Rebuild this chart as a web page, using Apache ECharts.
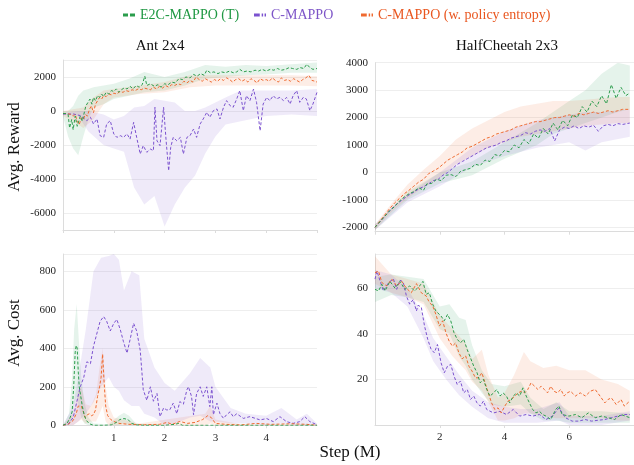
<!DOCTYPE html>
<html><head><meta charset="utf-8">
<script src="https://cdn.jsdelivr.net/npm/echarts@6/dist/echarts.min.js"></script>
<style>html,body{margin:0;padding:0;background:#fff}#c{width:634px;height:465px}</style>
</head><body><div id="c"></div>
<script>
// ---------- DATA ----------
const legendNames = ['E2C-MAPPO (T)', 'C-MAPPO', 'C-MAPPO (w. policy entropy)'];
const panelTitles = ['Ant 2x4', 'HalfCheetah 2x3'];
const yNames = ['Avg. Reward', 'Avg. Cost'];
const xName = 'Step (M)';

// Ant 2x4 reward [step(M), value]
const antRewE2C = [[0,-150],[0.06,-150],[0.10,-200],[0.13,-1000],[0.17,-500],[0.20,-1100],[0.24,-300],[0.28,-900],[0.31,-1000],[0.34,-300],[0.38,-600],[0.41,-200],[0.45,300],[0.49,500],[0.53,700],[0.57,400],[0.60,800],[0.64,600],[0.68,900],[0.72,800],[0.76,1000],[0.80,850],[0.85,1100],[0.90,1000],[0.95,1200],[1.00,1150],[1.05,1300],[1.10,1100],[1.15,1250],[1.20,1350],[1.26,1300],[1.32,1450],[1.38,1300],[1.44,1500],[1.50,1400],[1.56,1550],[1.61,2050],[1.65,1500],[1.72,1600],[1.80,1450],[1.87,1550],[1.93,1400],[2.00,1600],[2.07,1550],[2.14,1700],[2.21,1650],[2.28,1900],[2.35,1850],[2.42,2000],[2.50,1950],[2.57,2150],[2.64,2050],[2.71,2200],[2.78,2100],[2.83,2400],[2.90,2250],[2.97,2300],[3.05,2200],[3.12,2300],[3.20,2250],[3.28,2350],[3.35,2250],[3.42,2300],[3.48,2450],[3.55,2300],[3.62,2350],[3.70,2300],[3.78,2400],[3.85,2350],[3.92,2450],[4.00,2350],[4.08,2450],[4.15,2400],[4.22,2500],[4.30,2400],[4.38,2450],[4.45,2550],[4.52,2500],[4.60,2450],[4.67,2550],[4.74,2500],[4.80,2750],[4.86,2550],[4.92,2450],[5.00,2500]];
const antRewCM = [[0,-180],[0.21,-180],[0.34,-270],[0.47,-570],[0.54,-370],[0.60,-760],[0.67,-470],[0.73,-1450],[0.80,-1550],[0.86,-760],[0.93,-570],[1.00,-1350],[1.06,-1550],[1.13,-1450],[1.19,-1550],[1.26,-1350],[1.32,-1650],[1.39,-670],[1.45,-1550],[1.52,-2530],[1.58,-2040],[1.65,-2430],[1.72,-2240],[1.78,-2330],[1.81,220],[1.85,-1750],[1.91,-2040],[1.98,220],[2.03,-1750],[2.08,-3510],[2.12,-2140],[2.17,-1550],[2.24,-1750],[2.31,-1550],[2.37,-2530],[2.44,-1550],[2.50,-1450],[2.57,-1060],[2.63,-1550],[2.70,-760],[2.76,-470],[2.83,-80],[2.89,-370],[2.96,20],[3.03,120],[3.09,-470],[3.16,220],[3.22,610],[3.29,310],[3.35,220],[3.42,710],[3.48,1200],[3.55,20],[3.61,900],[3.68,610],[3.75,1290],[3.81,510],[3.88,-1160],[3.94,410],[4.01,800],[4.07,610],[4.14,900],[4.20,710],[4.27,800],[4.34,610],[4.40,800],[4.47,410],[4.53,900],[4.60,1200],[4.66,510],[4.73,800],[4.79,710],[4.86,20],[4.92,410],[5.00,1100]];
const antRewEnt = [[0,-150],[0.08,-150],[0.15,-200],[0.20,-300],[0.24,-200],[0.28,-600],[0.32,-800],[0.36,-400],[0.40,-500],[0.44,-200],[0.48,-300],[0.52,100],[0.56,300],[0.60,-100],[0.64,400],[0.68,600],[0.72,800],[0.76,700],[0.80,900],[0.85,850],[0.90,1000],[0.95,950],[1.00,1050],[1.06,1000],[1.12,1150],[1.18,1100],[1.24,1200],[1.30,1150],[1.36,1250],[1.42,1200],[1.48,1300],[1.54,1250],[1.60,1350],[1.66,1300],[1.72,1250],[1.78,1400],[1.84,1300],[1.90,1450],[1.96,1350],[2.02,1500],[2.08,1400],[2.14,1550],[2.20,1500],[2.26,1600],[2.32,1550],[2.38,1750],[2.44,1650],[2.50,1800],[2.56,1700],[2.62,2000],[2.68,1850],[2.74,1750],[2.80,1900],[2.86,1800],[2.92,1700],[2.98,1850],[3.04,1750],[3.10,1900],[3.16,1800],[3.22,1950],[3.28,1850],[3.34,1700],[3.40,1850],[3.46,1900],[3.52,1750],[3.58,1850],[3.64,1700],[3.70,1900],[3.76,1800],[3.82,1650],[3.88,1900],[3.94,1800],[4.00,1850],[4.06,1750],[4.12,1950],[4.18,1800],[4.24,1700],[4.30,1950],[4.36,1800],[4.42,1850],[4.48,1750],[4.54,1900],[4.60,1800],[4.66,1700],[4.72,1850],[4.78,1950],[4.84,2100],[4.90,1800],[4.96,1750],[5.00,1700]];
// bands [step, low, high]
const antRewE2CBand = [[0,-300,0],[0.1,-1500,0],[0.2,-2200,300],[0.3,-2600,900],[0.4,-1500,1200],[0.5,-500,1300],[0.6,200,1400],[0.8,400,1500],[1.0,700,1600],[1.3,900,1900],[1.6,1100,2300],[2.0,1200,2000],[2.4,1500,2300],[2.8,1900,2700],[3.2,2000,2600],[3.6,2100,2700],[4.0,2150,2650],[4.5,2250,2750],[5.0,2250,2850]];
const antRewCMBand = [[0,-200,-100],[0.3,-300,0],[0.5,-1200,0],[0.8,-2000,-200],[1.0,-2200,-500],[1.2,-2400,-300],[1.4,-4500,200],[1.6,-5500,300],[1.8,-5000,700],[2.0,-6800,600],[2.2,-5500,500],[2.4,-4500,0],[2.6,-3800,0],[2.8,-2500,200],[3.0,-1500,500],[3.2,-800,800],[3.5,-600,1200],[4.0,-300,1200],[4.5,-200,1200],[5.0,-300,1300]];
const antRewEntBand = [[0,-300,0],[0.2,-600,100],[0.4,-1000,200],[0.6,-500,800],[0.8,400,1200],[1.0,800,1300],[1.5,1000,1500],[2.0,1100,1700],[2.5,1400,2100],[3.0,1500,2100],[3.5,1500,2100],[4.0,1500,2100],[4.5,1500,2100],[5.0,1450,2050]];

// HalfCheetah 2x3 reward
const hcRewE2C = [[0,-2000],[0.15,-1800],[0.30,-1600],[0.45,-1400],[0.60,-1250],[0.75,-1050],[0.90,-900],[1.05,-780],[1.20,-700],[1.35,-560],[1.50,-650],[1.60,-420],[1.75,-400],[1.90,-250],[2.05,-300],[2.20,-100],[2.35,-80],[2.50,-150],[2.65,50],[2.80,100],[2.95,150],[3.10,300],[3.25,250],[3.40,450],[3.55,400],[3.70,650],[3.85,600],[4.00,800],[4.15,750],[4.30,1000],[4.45,900],[4.60,1200],[4.75,1050],[4.90,1400],[5.05,1250],[5.20,1600],[5.35,1400],[5.50,1800],[5.65,1550],[5.80,1900],[5.95,1700],[6.10,2100],[6.25,2000],[6.40,2400],[6.55,2200],[6.70,2600],[6.85,2400],[7.00,2800],[7.15,2500],[7.30,3200],[7.45,2700],[7.60,3100],[7.75,2800],[7.87,2900]];
const hcRewCM = [[0,-2000],[0.15,-1800],[0.30,-1600],[0.45,-1400],[0.60,-1220],[0.75,-1080],[0.90,-950],[1.05,-820],[1.20,-720],[1.35,-600],[1.50,-520],[1.65,-420],[1.80,-300],[1.95,-250],[2.10,-100],[2.25,0],[2.40,150],[2.55,300],[2.70,400],[2.85,500],[3.00,600],[3.15,700],[3.30,800],[3.45,900],[3.60,950],[3.75,1000],[3.90,1100],[4.05,1150],[4.20,1250],[4.35,1300],[4.50,1350],[4.65,1450],[4.80,1400],[4.95,1500],[5.10,1550],[5.25,1500],[5.40,1600],[5.55,1150],[5.70,1550],[5.85,1650],[6.00,1600],[6.15,1700],[6.30,1600],[6.45,1700],[6.60,1650],[6.75,1720],[6.90,1500],[7.05,1700],[7.20,1750],[7.35,1700],[7.50,1780],[7.65,1750],[7.87,1800]];
const hcRewEnt = [[0,-2000],[0.15,-1780],[0.30,-1550],[0.45,-1320],[0.60,-1120],[0.75,-950],[0.90,-780],[1.05,-650],[1.20,-500],[1.35,-350],[1.50,-250],[1.65,-50],[1.80,50],[1.95,150],[2.10,300],[2.25,450],[2.40,550],[2.55,650],[2.70,750],[2.85,900],[3.00,950],[3.15,1050],[3.30,1150],[3.45,1250],[3.60,1300],[3.75,1400],[3.90,1450],[4.05,1500],[4.20,1550],[4.35,1650],[4.50,1700],[4.65,1750],[4.80,1800],[4.95,1850],[5.10,1850],[5.25,1900],[5.40,1950],[5.55,2000],[5.70,2000],[5.85,2050],[6.00,2100],[6.15,2050],[6.30,2150],[6.45,2100],[6.60,2150],[6.75,2200],[6.90,2150],[7.05,2200],[7.20,2250],[7.35,2200],[7.50,2250],[7.65,2300],[7.87,2300]];
const hcRewE2CBand = [[0,-2100,-1900],[1.0,-1000,-700],[2.0,-400,0],[3.0,-100,400],[4.0,500,1100],[5.0,1000,1800],[5.5,1400,2200],[6.0,1600,2600],[6.5,1800,3000],[7.0,2000,3600],[7.5,2200,4000],[7.87,2300,3900]];
const hcRewCMBand = [[0,-2100,-1900],[1.0,-1100,-800],[2.0,-500,0],[3.0,200,900],[4.0,600,1500],[5.0,900,1900],[6.0,1100,2100],[6.5,800,2200],[7.0,1100,2200],[7.87,1300,2300]];
const hcRewEntBand = [[0,-2100,-1900],[0.5,-1450,-1150],[1.0,-950,-450],[1.5,-550,100],[2.0,-200,600],[2.5,300,1200],[3.0,600,1600],[3.5,900,1900],[4.0,1100,2200],[4.5,1300,2400],[5.0,1400,2500],[5.5,1500,2600],[6.0,1600,2600],[6.5,1700,2650],[7.0,1750,2700],[7.5,1800,2750],[7.87,1800,2750]];

// Ant 2x4 cost
const antCostE2C = [[0,0],[0.08,10],[0.14,40],[0.18,70],[0.21,200],[0.24,380],[0.26,415],[0.28,400],[0.30,280],[0.32,200],[0.35,150],[0.38,100],[0.42,50],[0.46,25],[0.52,8],[0.60,0],[0.80,0],[0.95,2],[1.05,15],[1.12,30],[1.20,35],[1.28,30],[1.35,10],[1.45,2],[1.60,0],[2.00,0],[2.20,5],[2.28,10],[2.35,0],[3.00,0],[4.00,0],[5.00,0]];
const antCostCM = [[0,0],[0.10,5],[0.20,40],[0.27,120],[0.34,200],[0.41,250],[0.47,330],[0.54,320],[0.60,410],[0.67,480],[0.73,540],[0.80,565],[0.83,570],[0.86,540],[0.93,490],[1.00,530],[1.06,550],[1.13,495],[1.19,435],[1.26,375],[1.29,370],[1.32,445],[1.39,530],[1.45,490],[1.52,390],[1.58,185],[1.65,130],[1.72,200],[1.78,125],[1.85,165],[1.91,45],[1.98,90],[2.04,80],[2.10,80],[2.17,115],[2.24,60],[2.30,123],[2.37,110],[2.44,185],[2.47,200],[2.53,150],[2.57,55],[2.63,165],[2.70,200],[2.76,150],[2.83,200],[2.89,97],[2.93,200],[2.96,55],[3.03,115],[3.09,60],[3.16,36],[3.22,55],[3.29,70],[3.35,45],[3.42,60],[3.55,36],[3.68,45],[3.88,28],[4.01,35],[4.14,19],[4.27,45],[4.40,19],[4.53,10],[4.66,19],[4.76,45],[4.86,19],[5.00,3]];
const antCostEnt = [[0,0],[0.10,5],[0.20,25],[0.26,60],[0.30,100],[0.33,110],[0.36,100],[0.40,70],[0.44,40],[0.48,55],[0.52,60],[0.56,50],[0.60,55],[0.64,80],[0.68,150],[0.72,200],[0.75,250],[0.78,370],[0.81,220],[0.84,100],[0.88,50],[0.94,30],[1.00,20],[1.10,10],[1.30,5],[1.60,3],[1.90,5],[2.05,15],[2.15,5],[2.30,20],[2.45,10],[2.60,15],[2.75,30],[2.85,50],[2.92,40],[3.00,10],[3.20,5],[3.50,2],[3.80,10],[4.10,5],[4.50,8],[4.80,5],[5.00,0]];
const antCostE2CBand = [[0,0,0],[0.12,0,60],[0.18,30,250],[0.22,100,500],[0.27,150,630],[0.31,100,450],[0.36,40,250],[0.42,10,120],[0.5,0,40],[0.6,0,10],[0.9,0,5],[1.1,0,50],[1.2,10,65],[1.3,0,50],[1.45,0,5],[2.0,0,2],[5.0,0,0]];
const antCostCMBand = [[0,0,0],[0.2,0,100],[0.3,20,250],[0.45,60,500],[0.6,120,800],[0.75,200,870],[0.9,250,880],[1.0,200,890],[1.1,180,860],[1.2,130,700],[1.35,100,800],[1.5,100,780],[1.6,60,450],[1.8,40,300],[2.0,0,220],[2.2,10,180],[2.5,40,270],[2.7,50,350],[2.9,20,300],[3.0,20,200],[3.3,10,90],[3.6,10,60],[4.0,0,50],[4.3,10,90],[4.6,0,30],[4.8,0,60],[5.0,0,10]];
const antCostEntBand = [[0,0,0],[0.2,0,60],[0.3,20,180],[0.36,30,200],[0.45,10,110],[0.55,20,100],[0.65,20,160],[0.72,60,300],[0.78,100,400],[0.84,20,200],[0.9,0,100],[1.0,0,40],[1.5,0,10],[2.8,0,60],[2.9,10,100],[3.0,0,30],[3.5,0,5],[5.0,0,5]];

// HalfCheetah 2x3 cost
const hcCostE2C = [[0,59.5],[0.11,58.8],[0.21,61.7],[0.31,58.8],[0.46,63],[0.62,60],[0.77,63],[0.92,59.5],[1.07,61],[1.22,58.8],[1.38,61],[1.48,63],[1.58,57.3],[1.68,58],[1.78,53],[1.88,50],[2.04,47.8],[2.14,45.7],[2.24,48.5],[2.34,45.7],[2.44,40.5],[2.54,37.6],[2.64,36],[2.74,37.6],[2.85,33],[2.95,29.4],[3.05,25.8],[3.15,23],[3.25,18.5],[3.35,20],[3.45,15.6],[3.55,12.7],[3.66,14],[3.76,15.6],[3.86,12.7],[3.96,14],[4.06,12.7],[4.16,9.7],[4.27,12.7],[4.37,14],[4.47,12.7],[4.57,16.3],[4.67,12.7],[4.77,9.7],[4.87,6.8],[4.97,5.3],[5.08,6],[5.18,4.6],[5.28,3.9],[5.43,2.4],[5.58,6.8],[5.68,8.3],[5.78,4.6],[5.99,3.9],[6.19,4.6],[6.39,3.2],[6.59,5.3],[6.80,3.2],[7.00,3.9],[7.20,3.2],[7.40,2.4],[7.60,4.6],[7.87,3.2]];
const hcCostCM = [[0,64],[0.06,67.5],[0.16,63],[0.26,58.8],[0.42,62.5],[0.57,64],[0.67,59.5],[0.77,63.5],[0.87,62.8],[0.97,56.6],[1.07,53],[1.18,55],[1.28,50],[1.33,52.5],[1.43,51.7],[1.53,43.4],[1.63,37.5],[1.73,33.3],[1.83,31.7],[1.93,35.3],[2.04,27.3],[2.14,22.9],[2.24,25.8],[2.34,26.6],[2.44,21.5],[2.54,17.8],[2.64,19.3],[2.74,14.1],[2.85,15.6],[2.95,11.2],[3.05,12.7],[3.15,9.7],[3.25,8.3],[3.35,10.5],[3.45,6.8],[3.66,5.3],[3.86,6],[4.06,4.6],[4.27,6.8],[4.47,3.9],[4.67,4.6],[4.87,3.9],[5.08,4.6],[5.28,2.4],[5.48,3.9],[5.68,7.5],[5.88,3.2],[6.09,1.7],[6.29,1.7],[6.49,2.4],[6.69,1.7],[6.90,2.1],[7.10,2.4],[7.30,3.2],[7.50,3.9],[7.71,4.6],[7.87,4.6]];
const hcCostEnt = [[0,66.8],[0.11,67.5],[0.21,62.5],[0.36,61],[0.52,64],[0.67,61],[0.82,63],[0.97,60],[1.12,58],[1.28,62],[1.43,58],[1.58,56.6],[1.68,53.7],[1.78,52.3],[1.88,48.5],[1.99,43.4],[2.09,45.7],[2.19,40.5],[2.29,36.8],[2.39,34.6],[2.49,36],[2.59,31.7],[2.69,29],[2.80,30.3],[2.90,25.8],[3.00,23.6],[3.10,20.7],[3.20,20.7],[3.30,22.9],[3.40,18.5],[3.50,14.1],[3.60,9.7],[3.70,6.8],[3.80,7.5],[3.90,5.3],[4.01,8.3],[4.11,10.5],[4.21,11.2],[4.32,12.7],[4.42,14.1],[4.52,14.8],[4.62,14.1],[4.72,15.6],[4.82,18.5],[4.93,17],[5.03,15.6],[5.13,17],[5.23,15.6],[5.33,14.1],[5.43,17],[5.53,14.8],[5.63,14.1],[5.74,15.6],[5.84,12.7],[5.94,14.1],[6.04,14.8],[6.19,12.7],[6.34,14.1],[6.50,12.7],[6.65,14.8],[6.80,15.6],[6.95,12.7],[7.10,9.7],[7.20,11.2],[7.30,11.9],[7.45,9],[7.60,11.2],[7.70,8.3],[7.87,10.5]];
const hcCostE2CBand = [[0,54,65],[0.5,57,66],[1.0,56,65],[1.5,54,64],[2.0,42,52],[2.3,40,53],[2.6,30,47],[2.8,26,46],[3.0,20,35],[3.3,14,24],[3.6,9,18],[4.0,8,17],[4.5,9,19],[4.8,5,12],[5.2,2,7],[5.6,2,10],[6.0,1,6],[7.0,1,6],[7.87,1,5]];
const hcCostCMBand = [[0,60,68],[0.5,58,66],[1.0,52,60],[1.5,38,48],[1.8,28,38],[2.2,20,30],[2.6,13,22],[3.0,8,15],[3.5,3,10],[4.0,1,8],[4.5,1,7],[5.0,1,7],[5.7,2,10],[6.0,0,4],[7.0,0,4],[7.87,2,6]];
const hcCostEntBand = [[0,62,74],[0.5,58,66],[1.0,56,64],[1.5,53,62],[2.0,38,48],[2.4,30,42],[2.8,24,36],[3.0,19,29],[3.3,15,33],[3.5,10,22],[3.8,2,12],[4.0,2,14],[4.3,3,22],[4.6,5,32],[4.8,5,28],[5.2,4,25],[5.6,3,26],[6.0,3,24],[6.5,3,24],[7.0,3,20],[7.5,2,18],[7.87,2,15]];

// ---------- STYLE ----------
const F = 'Liberation Serif';
const COL = {e2c: '#2b9d4c', cm: '#7b52cf', ent: '#ef6a30'};
const TXT = {e2c: '#1f9843', cm: '#7d55c8', ent: '#e9561f'};
const FILL = {e2c: 'rgba(44,160,90,0.12)', cm: 'rgba(123,82,208,0.12)', ent: 'rgba(240,106,48,0.12)'};
const AX = '#dcdcdc';

function lineSeries(name, data, key, g) {
  return {type: 'line', name, data, xAxisIndex: g, yAxisIndex: g, symbol: 'none', showSymbol: false,
    color: COL[key], itemStyle: {color: COL[key]},
    lineStyle: {color: COL[key], width: 1, type: [3, 2]}, z: 5, silent: true, clip: true};
}
function bandSeries(data, key, g) {
  return {type: 'custom', name: 'band', xAxisIndex: g, yAxisIndex: g, silent: true, z: 1,
    data, encode: {x: 0, y: [1, 2]},
    renderItem: function (params, api) {
      if (params.dataIndex !== 0) return null;
      const top = data.map(d => api.coord([d[0], d[2]]));
      const bot = data.map(d => api.coord([d[0], d[1]])).reverse();
      const cs = params.coordSys;
      return {type: 'polygon', shape: {points: top.concat(bot)}, style: {fill: FILL[key]},
        clipPath: {type: 'rect', shape: {x: cs.x, y: cs.y, width: cs.width, height: cs.height}}};
    }};
}

const grids = [
  {left: 63, top: 60, width: 254, height: 170},
  {left: 375, top: 62.7, width: 263, height: 169},
  {left: 63, top: 254, width: 254, height: 171.3},
  {left: 375, top: 254, width: 263, height: 171}
];
const labelStyle = {fontFamily: F, fontSize: 11, color: '#222', formatter: v => String(v)};
function xAx(g, max, interval, showLabels) {
  return {type: 'value', gridIndex: g, min: 0, max, interval,
    axisLine: {show: true, onZero: false, lineStyle: {color: AX}},
    axisTick: {show: true, length: 3, lineStyle: {color: AX}},
    splitLine: {show: false},
    axisLabel: Object.assign({show: showLabels, margin: 7, showMinLabel: false, showMaxLabel: false}, labelStyle)};
}
function yAx(g, min, max, step, showMin, showMax) {
  return {type: 'value', gridIndex: g, min, max, minInterval: step, maxInterval: step,
    axisLine: {show: true, lineStyle: {color: AX}},
    axisTick: {show: false},
    splitLine: {show: true, lineStyle: {color: '#eeeeee', width: 1}},
    axisLabel: Object.assign({margin: 7, showMinLabel: showMin, showMaxLabel: showMax}, labelStyle)};
}

const iconDash2 = 'path://M0,0H5V3H0Z M7,0H12V3H7Z';
const iconDash3 = 'path://M0,0H6V3H0Z M8,0H9.5V3H8Z M11,0H12.5V3H11Z';
function leg(left, name, key, icon) {
  return {left, top: 8, padding: 0, itemWidth: 12, itemHeight: 3, itemGap: 0, selectedMode: false,
    data: [{name, icon, textStyle: {color: TXT[key]}}],
    textStyle: {fontFamily: F, fontSize: 14, padding: [0, 0, 0, 0]}};
}

const series = [
  bandSeries(antRewE2CBand, 'e2c', 0), bandSeries(antRewEntBand, 'ent', 0), bandSeries(antRewCMBand, 'cm', 0),
  bandSeries(hcRewE2CBand, 'e2c', 1), bandSeries(hcRewEntBand, 'ent', 1), bandSeries(hcRewCMBand, 'cm', 1),
  bandSeries(antCostE2CBand, 'e2c', 2), bandSeries(antCostEntBand, 'ent', 2), bandSeries(antCostCMBand, 'cm', 2),
  bandSeries(hcCostE2CBand, 'e2c', 3), bandSeries(hcCostEntBand, 'ent', 3), bandSeries(hcCostCMBand, 'cm', 3),
  lineSeries(legendNames[1], antRewCM, 'cm', 0), lineSeries(legendNames[2], antRewEnt, 'ent', 0), lineSeries(legendNames[0], antRewE2C, 'e2c', 0),
  lineSeries(legendNames[1], hcRewCM, 'cm', 1), lineSeries(legendNames[2], hcRewEnt, 'ent', 1), lineSeries(legendNames[0], hcRewE2C, 'e2c', 1),
  lineSeries(legendNames[1], antCostCM, 'cm', 2), lineSeries(legendNames[2], antCostEnt, 'ent', 2), lineSeries(legendNames[0], antCostE2C, 'e2c', 2),
  lineSeries(legendNames[1], hcCostCM, 'cm', 3), lineSeries(legendNames[2], hcCostEnt, 'ent', 3), lineSeries(legendNames[0], hcCostE2C, 'e2c', 3)
];

const option = {
  animation: false,
  backgroundColor: '#fff',
  title: [
    {text: panelTitles[0], left: 160, top: 39, textAlign: 'center', padding: 0, textStyle: {fontFamily: F, fontSize: 15, fontWeight: 'normal', color: '#111'}},
    {text: panelTitles[1], left: 507, top: 39, textAlign: 'center', padding: 0, textStyle: {fontFamily: F, fontSize: 15, fontWeight: 'normal', color: '#111'}}
  ],
  legend: [
    leg(123, legendNames[0], 'e2c', iconDash2),
    leg(254, legendNames[1], 'cm', iconDash3),
    leg(361, legendNames[2], 'ent', iconDash3)
  ],
  grid: grids,
  xAxis: [xAx(0, 5, 1, false), xAx(1, 8, 2, false), xAx(2, 5, 1, true), xAx(3, 8, 2, true)],
  yAxis: [yAx(0, -7000, 3000, 2000, false, false), yAx(1, -2160, 4000, 1000, false, true),
          yAx(2, 0, 890, 200, true, false), yAx(3, 0, 75, 20, false, false)],
  graphic: [
    {type: 'text', x: 15, y: 147, rotation: Math.PI / 2, style: {text: yNames[0], fontFamily: F, fontSize: 17, fill: '#111', textAlign: 'center', textVerticalAlign: 'middle'}},
    {type: 'text', x: 15, y: 333, rotation: Math.PI / 2, style: {text: yNames[1], fontFamily: F, fontSize: 17, fill: '#111', textAlign: 'center', textVerticalAlign: 'middle'}},
    {type: 'text', x: 350, y: 453, style: {text: xName, fontFamily: F, fontSize: 17, fill: '#111', textAlign: 'center', textVerticalAlign: 'middle'}}
  ],
  series
};
const chart = echarts.init(document.getElementById('c'), null, {renderer: 'canvas'});
chart.setOption(option);
</script></body></html>
